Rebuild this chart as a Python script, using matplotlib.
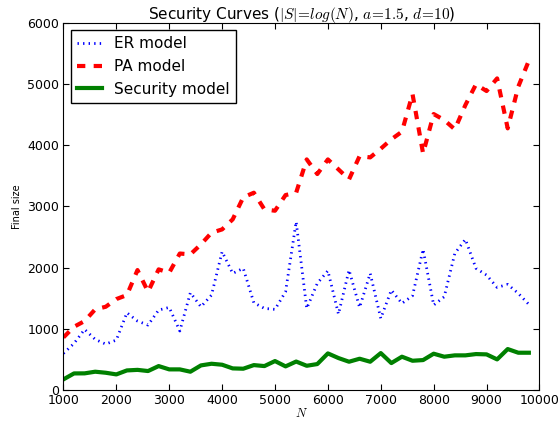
import matplotlib
matplotlib.use("Agg")
import matplotlib.pyplot as plt

plt.rcParams['mathtext.fontset'] = 'cm'

N = list(range(1000, 10000, 200))

er_model = [599, 762, 991, 828, 751, 817, 1263, 1127, 1062, 1307,
            1350, 965, 1590, 1361, 1552, 2260, 1906, 1988, 1426, 1334,
            1318, 1606, 2749, 1334, 1743, 1949, 1241, 1960, 1350, 1906,
            1171, 1633, 1416, 1540, 2298, 1388, 1524, 2232, 2461, 1988,
            1878, 1677, 1726, 1579, 1399]

pa_model = [860, 1034, 1127, 1318, 1361, 1486, 1552, 1960, 1606, 1971,
            1917, 2230, 2216, 2380, 2570, 2624, 2788, 3148, 3223, 2951,
            2929, 3185, 3223, 3767, 3528, 3767, 3604, 3441, 3822, 3800,
            3942, 4095, 4220, 4835, 3865, 4508, 4410, 4258, 4655, 4993,
            4884, 5090, 4274, 4955, 5380]

security_model = [175, 272, 273, 300, 283, 256, 321, 330, 311, 392,
                  338, 338, 300, 403, 430, 414, 354, 349, 408, 392,
                  474, 387, 466, 397, 425, 599, 523, 463, 512, 463,
                  604, 441, 545, 479, 490, 594, 545, 567, 567, 588,
                  583, 501, 670, 610, 610]

fig = plt.figure(figsize=(5.59, 4.24), dpi=100)
ax = fig.add_subplot(111)
fig.subplots_adjust(left=0.1135, right=0.965, bottom=0.080, top=0.9465)

# old-style short dashes / dots
ax.plot(N, er_model, color=(0, 0, 1), linestyle=(0, (0.5, 1.5)), linewidth=2, label='ER model')
ax.plot(N, pa_model, color=(1, 0, 0), linestyle=(0, (2, 2)), linewidth=3, label='PA model')
ax.plot(N, security_model, color=(0, 0.5, 0), linestyle='-', linewidth=3, label='Security model')

ax.set_xlim(1000, 10000)
ax.set_ylim(0, 6000)
ax.set_xticks(range(1000, 10001, 1000))
ax.set_yticks(range(0, 6001, 1000))
ax.tick_params(direction='in', top=True, right=True, length=4, labelsize=9, pad=3)

ax.set_title(r'Security Curves ($|S|\!=\!log(N)$, $a\!=\!1.5$, $d\!=\!10$)', fontsize=11, pad=3)
ax.set_xlabel(r'$N$', fontsize=9, labelpad=0)
ax.set_ylabel('Final size', fontsize=7, labelpad=4)

leg = ax.legend(loc='upper left', fontsize=11, fancybox=False, framealpha=1,
                edgecolor='black', handlelength=1.6, borderaxespad=0.5)
leg.get_frame().set_linewidth(1)

plt.savefig('out.png', dpi=100)
plt.close()
